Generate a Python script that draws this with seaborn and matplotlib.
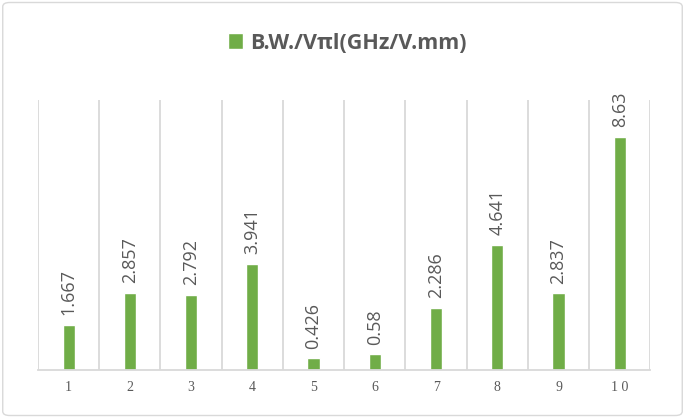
import matplotlib
matplotlib.use("Agg")
import matplotlib.pyplot as plt
import seaborn as sns
import pandas as pd
from matplotlib.patches import FancyBboxPatch

# chart values
categories = ["1", "2", "3", "4", "5", "6", "7", "8", "9", "10"]
tick_labels = ["1", "2", "3", "4", "5", "6", "7", "8", "9", "1 0"]
values = [1.667, 2.857, 2.792, 3.941, 0.426, 0.58, 2.286, 4.641, 2.837, 8.63]
value_labels = ["1.667", "2.857", "2.792", "3.941", "0.426", "0.58", "2.286", "4.641", "2.837", "8.63"]
series_name = "B.W./V\u03c0l(GHz/V.mm)"

df = pd.DataFrame({"cat": categories, "val": values})

sns.set_style("white")
plt.rcParams['font.family'] = ['Open Sans', 'DejaVu Sans']

fig = plt.figure(figsize=(6.85, 4.18), dpi=100)
ax = fig.add_axes([0.0555, 0.115, 0.894, 0.646])

green = "#70AD47"
sns.barplot(data=df, x="cat", y="val", color=green, width=0.2, ax=ax,
            saturation=1)

ax.set_ylim(0, 10)
ax.set_xlim(-0.5, len(categories) - 0.5)
ax.set_xlabel("")
ax.set_ylabel("")
ax.set_yticks([])

# vertical grid lines between categories
for b in range(len(categories) + 1):
    ax.axvline(b - 0.5, color="#d9d9d9", lw=1.3, zorder=0)

for s in ["top", "right", "left"]:
    ax.spines[s].set_visible(False)
ax.spines["bottom"].set_color("#d9d9d9")
ax.spines["bottom"].set_linewidth(1.3)

ax.set_xticks(range(len(categories)))
ax.set_xticklabels(tick_labels, family="Liberation Serif", fontsize=10, color="#595959")
ax.tick_params(axis="x", length=0, pad=8)

ax.bar_label(ax.containers[0], labels=value_labels, rotation=90, padding=7,
             fontsize=13, color="#595959")

leg = fig.legend(handles=ax.containers[0][:1], labels=[series_name],
                 loc="center", bbox_to_anchor=(0.507, 0.897), frameon=False,
                 handlelength=0.7, handleheight=0.7, handletextpad=0.35,
                 prop={"weight": "bold", "size": 15.5})
for t in leg.get_texts():
    t.set_color("#595959")

# light border around the chart
border = FancyBboxPatch((0.004, 0.006), 0.992, 0.988, boxstyle="round,pad=0,rounding_size=0.01",
                        transform=fig.transFigure, fill=False, edgecolor="#d9d9d9", lw=1.0)
fig.patches.append(border)

fig.savefig("out.png", dpi=100)
